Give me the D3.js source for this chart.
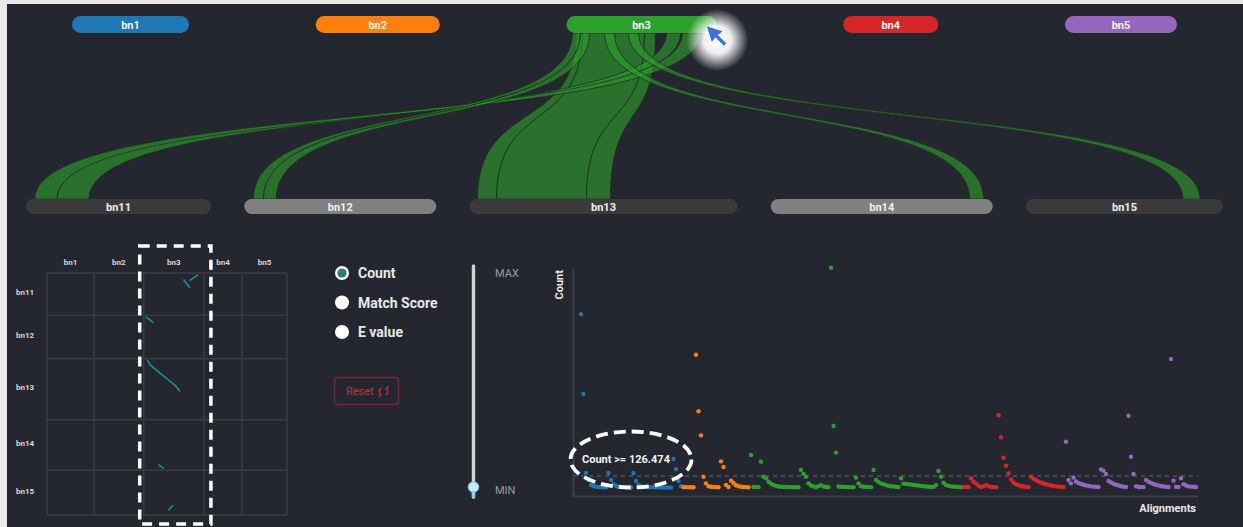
<!DOCTYPE html>
<html><head><meta charset="utf-8">
<script src="https://cdn.jsdelivr.net/npm/d3@7"></script>
<style>html,body{margin:0;padding:0;background:#e8e8e9;overflow:hidden}svg{display:block}</style>
</head><body><svg id="c" width="1243" height="527"></svg>
<script>
// ---------- data ----------
const topNodes = ["bn1", "bn2", "bn3", "bn4", "bn5"];
const topLengths = [117, 124, 150, 95, 112];
const bottomNodes = ["bn11", "bn12", "bn13", "bn14", "bn15"];
const bottomLengths = [185, 192, 268, 222, 197];
const bottomShade = ["dark", "light", "dark", "light", "dark"];
const selectedNode = "bn3";

// alignments from bn3 to bottom chromosomes (positions in node units)
const linkSource = ["bn3", "bn3", "bn3", "bn3", "bn3", "bn3", "bn3", "bn3", "bn3"];
const linkTarget = ["bn13", "bn13", "bn13", "bn11", "bn11", "bn12", "bn12", "bn14", "bn15"];
const linkSourceStart = [10, 16, 78, 100, 116, 6, 14, 38, 62];
const linkSourceEnd   = [16, 78, 89, 114, 134, 14, 23, 48, 72];
const linkTargetStart = [8, 27, 117, 31, 9, 9, 19, 199, 157];
const linkTargetEnd   = [27, 117, 141, 63, 31, 19, 32, 213, 174];
const linkReversed    = [false, false, false, false, true, false, false, false, true];

// scatter: count per alignment, grouped by source chromosome
const countsBn1 = [1149, 644, 145, 101, 70, 62, 58, 57, 56, 55, 55, 145, 101, 75, 63, 58, 57, 56, 55, 55, 54, 145, 95, 70, 62, 58, 57, 57, 56, 56, 55, 55, 55, 54, 54, 54, 53, 234, 170, 95, 62];
const countsBn2 = [57, 56, 56, 55, 55, 892, 535, 383, 122, 80, 62, 58, 57, 56, 55, 219, 183, 70, 57, 97, 82, 68, 62, 58, 57, 56, 55];
const countsBn3 = [259, 57, 56, 56, 217, 122, 112, 90, 78, 70, 64, 60, 58, 57, 57, 56, 56, 55, 55, 55, 164, 140, 122, 80, 66, 60, 57, 62, 69, 60, 57, 56, 1442, 442, 274, 60, 58, 57, 57, 56, 56, 55, 116, 80, 62, 58, 57, 56, 56, 164, 101, 88, 80, 74, 69, 65, 62, 60, 58, 57, 112, 78, 76, 74, 72, 70, 68, 66, 64, 62, 60, 58, 57, 57, 69, 158, 122, 84, 70, 64, 61, 59, 58, 57, 56];
const countsBn4 = [57, 56, 56, 112, 90, 78, 65, 57, 62, 69, 62, 57, 56, 55, 510, 370, 242, 191, 143, 105, 85, 75, 68, 63, 60, 58, 57, 122, 110, 100, 92, 85, 79, 74, 70, 66, 63, 61, 59, 58, 57];
const countsBn5 = [343, 101, 80, 116, 92, 82, 76, 71, 67, 64, 61, 59, 58, 57, 168, 160, 139, 95, 85, 77, 71, 66, 62, 59, 57, 507, 248, 139, 62, 57, 57, 56, 101, 90, 82, 76, 71, 67, 63, 60, 58, 57, 865, 97, 58, 57, 112, 75, 66, 61, 59, 58, 57];
const countMax = 1440;
const threshold = 126.474;
const metricOptions = ["Count", "Match Score", "E value"];
const selectedMetric = "Count";
const sliderLabels = ["MAX", "MIN"];

// ---------- drawing ----------
const W = 1243, H = 527;
const FONT = "Roboto, 'Open Sans', sans-serif";
const colors = d3.schemeCategory10;
const svg = d3.select("#c");
const defs = svg.append("defs");

svg.append("rect").attr("width", W).attr("height", H).attr("fill", "#e9e9ea");
svg.append("rect").attr("x", 7).attr("y", 4).attr("width", W - 7).attr("height", H - 4).attr("fill", "#252730");

function rowLayout(lengths, x0, x1) {
  const gap = (x1 - x0 - d3.sum(lengths)) / (lengths.length - 1);
  const starts = []; let x = x0;
  lengths.forEach(l => { starts.push(x); x += l + gap; });
  return starts;
}
const topStart = rowLayout(topLengths, 72, 1177);
const botStart = rowLayout(bottomLengths, 26, 1223);
const topY0 = 16, topH = 17, botY0 = 199, botH = 15;

function nodeScale(start, len) { return d3.scaleLinear().domain([0, len]).range([start, start + len]); }
const topScales = topLengths.map((l, i) => nodeScale(topStart[i], l));
const botScales = bottomLengths.map((l, i) => nodeScale(botStart[i], l));

const links = linkTarget.map((t, i) => ({
  src: linkSource[i], tgt: t, s0: linkSourceStart[i], s1: linkSourceEnd[i],
  t0: linkTargetStart[i], t1: linkTargetEnd[i], rev: linkReversed[i]
}));

// ribbons
const yA = topY0 + topH, yB = botY0;
const k = 0.6;
const yC1 = yA + k * (yB - yA), yC2 = yB - k * (yB - yA);
const gRib = svg.append("g");
links.forEach(l => {
  const si = topNodes.indexOf(l.src), ti = bottomNodes.indexOf(l.tgt);
  const xs0 = topScales[si](l.s0), xs1 = topScales[si](l.s1);
  const xt0 = botScales[ti](l.t0), xt1 = botScales[ti](l.t1);
  const p = d3.path();
  p.moveTo(xs0, yA);
  p.bezierCurveTo(xs0, yC1, xt0, yC2, xt0, yB);
  p.lineTo(xt1, yB);
  p.bezierCurveTo(xt1, yC2, xs1, yC1, xs1, yA);
  p.closePath();
  gRib.append("path").attr("d", p.toString())
    .attr("fill", colors[si]).attr("fill-opacity", 0.62)
    .attr("stroke", "#1f2a22").attr("stroke-width", 0.9).attr("stroke-opacity", 0.8);
});

// top pills
const gTop = svg.append("g");
topNodes.forEach((n, i) => {
  gTop.append("rect").attr("x", topStart[i]).attr("y", topY0).attr("width", topLengths[i]).attr("height", topH)
    .attr("rx", topH / 2).attr("fill", colors[i]);
  gTop.append("text").attr("x", topStart[i] + topLengths[i] / 2).attr("y", topY0 + topH / 2 + 4)
    .attr("text-anchor", "middle").attr("fill", "#f4f4f4").attr("font-family", FONT)
    .attr("font-weight", "bold").attr("font-size", 11).text(n);
});
// bottom pills
const gBot = svg.append("g");
bottomNodes.forEach((n, i) => {
  gBot.append("rect").attr("x", botStart[i]).attr("y", botY0).attr("width", bottomLengths[i]).attr("height", botH)
    .attr("rx", botH / 2).attr("fill", bottomShade[i] === "dark" ? "#3b3b3c" : "#808080");
  gBot.append("text").attr("x", botStart[i] + bottomLengths[i] / 2).attr("y", botY0 + botH / 2 + 4)
    .attr("text-anchor", "middle").attr("fill", "#f0f0f0").attr("font-family", FONT)
    .attr("font-weight", "bold").attr("font-size", 11).text(n);
});

// cursor glow on selected node
const si3 = topNodes.indexOf(selectedNode);
const gx = topStart[si3] + topLengths[si3] + 1, gy = 40;
const rg = defs.append("radialGradient").attr("id", "glow");
rg.append("stop").attr("offset", "0%").attr("stop-color", "#fff").attr("stop-opacity", 1);
rg.append("stop").attr("offset", "45%").attr("stop-color", "#fff").attr("stop-opacity", 0.92);
rg.append("stop").attr("offset", "100%").attr("stop-color", "#fff").attr("stop-opacity", 0);
svg.append("circle").attr("cx", gx).attr("cy", gy).attr("r", 31).attr("fill", "url(#glow)");
svg.append("path").attr("d", "M0,0 L13,4 L9,7 L16,14 L14,16 L7,9 L4,13 Z")
  .attr("transform", `translate(${gx - 10.5},${gy - 13.5}) scale(1.2)`).attr("fill", "#3d6fd6");

// ---------- dot-plot matrix ----------
const mx0 = 47, mx1 = 287, my0 = 273, my1 = 515;
const cumTop = [0].concat(Array.from(d3.cumsum(topLengths)));
const cumBot = [0].concat(Array.from(d3.cumsum(bottomLengths)));
const colS = d3.scaleLinear().domain([0, d3.sum(topLengths)]).range([mx0, mx1]);
const rowS = d3.scaleLinear().domain([0, d3.sum(bottomLengths)]).range([my0, my1]);
const gM = svg.append("g");
cumTop.forEach(v => gM.append("line").attr("x1", colS(v)).attr("x2", colS(v)).attr("y1", my0).attr("y2", my1)
  .attr("stroke", "#3b3d43").attr("stroke-width", 1.4));
cumBot.forEach(v => gM.append("line").attr("x1", mx0).attr("x2", mx1).attr("y1", rowS(v)).attr("y2", rowS(v))
  .attr("stroke", "#3b3d43").attr("stroke-width", 1.4));
topNodes.forEach((n, i) => gM.append("text").attr("x", colS(cumTop[i] + topLengths[i] / 2)).attr("y", 265)
  .attr("text-anchor", "middle").attr("fill", "#d8d8d8").attr("font-family", FONT).attr("font-weight", "bold")
  .attr("font-size", 8).text(n));
bottomNodes.forEach((n, i) => gM.append("text").attr("x", 16).attr("y", rowS(cumBot[i] + bottomLengths[i] / 2) + 1)
  .attr("fill", "#d8d8d8").attr("font-family", FONT).attr("font-weight", "bold")
  .attr("font-size", 8).text(n));
links.forEach(l => {
  const si = topNodes.indexOf(l.src), ti = bottomNodes.indexOf(l.tgt);
  const x1 = colS(cumTop[si] + l.s0), x2 = colS(cumTop[si] + l.s1);
  const ya = rowS(cumBot[ti] + (l.rev ? l.t1 : l.t0)), yb = rowS(cumBot[ti] + (l.rev ? l.t0 : l.t1));
  gM.append("line").attr("x1", x1).attr("y1", ya).attr("x2", x2).attr("y2", yb)
    .attr("stroke", "#1a8e9b").attr("stroke-width", 1.6).attr("stroke-linecap", "round");
});
// selection box around selected column
const selX0 = colS(cumTop[si3]) - 4, selX1 = colS(cumTop[si3 + 1]) + 7;
gM.append("rect").attr("x", selX0).attr("y", 246).attr("width", selX1 - selX0).attr("height", 278)
  .attr("fill", "none").attr("stroke", "#fff").attr("stroke-width", 3.5).attr("stroke-dasharray", "10,7");

// ---------- controls ----------
const gC = svg.append("g");
metricOptions.forEach((m, i) => {
  const cy = 273 + i * 29.5;
  gC.append("circle").attr("cx", 342).attr("cy", cy).attr("r", 7).attr("fill", "#fff");
  if (m === selectedMetric) gC.append("circle").attr("cx", 342).attr("cy", cy).attr("r", 4.6).attr("fill", "#2e7b72");
  gC.append("text").attr("x", 358).attr("y", cy + 5).attr("fill", "#e8e8e8").attr("font-family", FONT)
    .attr("font-weight", "bold").attr("font-size", 14).text(m);
});
gC.append("rect").attr("x", 334.5).attr("y", 377.5).attr("width", 64).attr("height", 27).attr("rx", 3)
  .attr("fill", "none").attr("stroke", "#7c2530").attr("stroke-width", 1.4);
gC.append("text").attr("x", 346).attr("y", 395).attr("fill", "#c9303e").attr("font-family", FONT)
  .attr("font-size", 11).text("Reset");
const arcA = d3.arc()({innerRadius: 3.4, outerRadius: 4.8, startAngle: 0.5, endAngle: 2.6});
const arcB = d3.arc()({innerRadius: 3.4, outerRadius: 4.8, startAngle: 3.6, endAngle: 5.7});
gC.append("path").attr("d", arcA).attr("transform", "translate(383.5,391.5)").attr("fill", "#c9303e");
gC.append("path").attr("d", arcB).attr("transform", "translate(383.5,391.5)").attr("fill", "#c9303e");
gC.append("path").attr("d", "M386.5,386.2 l2.6,0.2 l-1.2,2.4 Z M380.5,396.8 l-2.6,-0.2 l1.2,-2.4 Z").attr("fill", "#c9303e");

// slider
gC.append("line").attr("x1", 473.5).attr("x2", 473.5).attr("y1", 266).attr("y2", 497)
  .attr("stroke", "#d2d2d2").attr("stroke-width", 3.4).attr("stroke-linecap", "round");
gC.append("line").attr("x1", 473.5).attr("x2", 473.5).attr("y1", 488).attr("y2", 497)
  .attr("stroke", "#8fd0ee").attr("stroke-width", 3.4).attr("stroke-linecap", "round");
gC.append("circle").attr("cx", 473.5).attr("cy", 487).attr("r", 5.2).attr("fill", "#c4ebfb")
  .attr("stroke", "#7cc4e8").attr("stroke-width", 1.2);
gC.append("text").attr("x", 495).attr("y", 277).attr("fill", "#9a9a9e").attr("font-family", FONT)
  .attr("font-size", 11).text(sliderLabels[0]);
gC.append("text").attr("x", 495).attr("y", 494).attr("fill", "#9a9a9e").attr("font-family", FONT)
  .attr("font-size", 11).text(sliderLabels[1]);

// ---------- scatter ----------
const seriesList = [countsBn1, countsBn2, countsBn3, countsBn4, countsBn5];
const points = [];
seriesList.forEach((s, kk) => s.forEach(v => points.push({v, k: kk})));
const xS = d3.scaleLinear().domain([0, points.length - 1]).range([581, 1196]);
const yS = d3.scaleLinear().domain([0, countMax]).range([496, 268]);
const gS = svg.append("g");
gS.append("line").attr("x1", 573).attr("x2", 1198).attr("y1", yS(threshold)).attr("y2", yS(threshold))
  .attr("stroke", "#50545b").attr("stroke-width", 1.5).attr("stroke-dasharray", "4,4");
gS.append("g").attr("transform", "translate(573,0)")
  .call(d3.axisLeft(yS).tickValues([]).tickSizeOuter(0));
gS.append("g").attr("transform", `translate(0,${yS(0)})`)
  .call(d3.axisBottom(d3.scaleLinear().range([573, 1198])).tickValues([]).tickSizeOuter(0));
gS.selectAll(".domain").attr("stroke", "#3c3f46").attr("stroke-width", 2);
gS.selectAll("circle.pt").data(points).join("circle").attr("class", "pt")
  .attr("cx", (d, i) => xS(i)).attr("cy", d => yS(d.v)).attr("r", 2.2).attr("fill", d => colors[d.k]);
gS.append("text").attr("transform", "translate(563,270) rotate(-90)").attr("text-anchor", "end")
  .attr("fill", "#eaeaea").attr("font-family", FONT).attr("font-weight", "bold").attr("font-size", 11).text("Count");
gS.append("text").attr("x", 1196).attr("y", 512).attr("text-anchor", "end")
  .attr("fill", "#eaeaea").attr("font-family", FONT).attr("font-weight", "bold").attr("font-size", 11).text("Alignments");
// threshold annotation
gS.append("text").attr("x", 582).attr("y", 463).attr("fill", "#f2f2f2").attr("font-family", FONT)
  .attr("font-weight", "bold").attr("font-size", 11).text(`${selectedMetric} >= ${threshold}`);
gS.append("ellipse").attr("cx", 631).attr("cy", 459.5).attr("rx", 60.5).attr("ry", 28)
  .attr("fill", "none").attr("stroke", "#fff").attr("stroke-width", 3.8).attr("stroke-dasharray", "12,6");
</script></body></html>
